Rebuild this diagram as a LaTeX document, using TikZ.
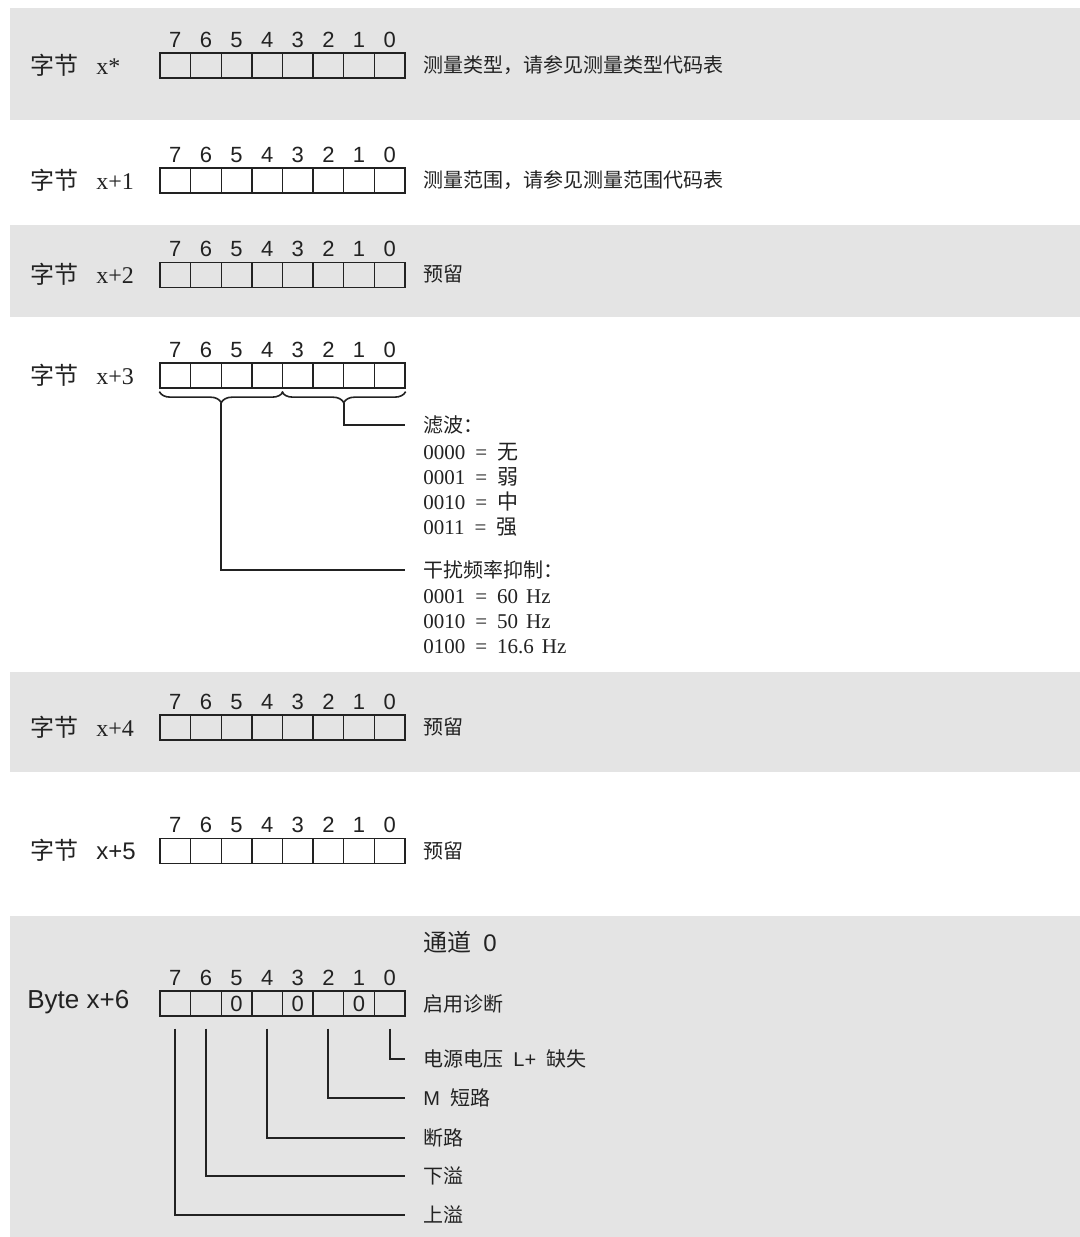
\documentclass[tikz,border=0pt]{standalone}
\usepackage{fontspec}
\setmainfont{Liberation Serif}
\setsansfont{Liberation Sans}
\newfontfamily\cjk{Noto Sans CJK SC}
\usetikzlibrary{decorations.pathreplacing}
\definecolor{bandgray}{HTML}{E4E4E4}
\definecolor{ink}{HTML}{222222}
\tikzset{
  cell/.style={draw=ink, line width=0.65pt, minimum width=15.3125pt, minimum height=12.5pt, inner sep=0pt},
  bitnum/.style={inner sep=0pt, font=\sffamily\fontsize{11}{13}\selectfont, text=ink, text height=7.9pt, text depth=0pt},
  lbl/.style={anchor=west, inner sep=0pt, font=\fontsize{12}{14}\selectfont, text=ink},
  desc/.style={anchor=west, inner sep=0pt, font=\cjk\fontsize{10}{12}\selectfont, text=ink},
  code/.style={anchor=west, inner sep=0pt, font=\fontsize{10.5}{12}\selectfont, text=ink},
  conn/.style={draw=ink, line width=1pt},
  bracestyle/.style={draw=ink, line width=0.8pt, decorate, decoration={brace, mirror, amplitude=5.5pt}},
  band/.style={fill=bandgray}
}
\newcommand\bytecells[2]{%
  \foreach \b in {0,...,7}{%
    \node[cell] (#1-\b) at ({160+(7.5-\b)*30.625},#2) {};
    \node[bitnum] (#1-n\b) at ({160+(7.5-\b)*30.625},#2-26) {\b};
  }}
\begin{document}
\begin{tikzpicture}[x=0.5pt,y=-0.5pt]
\useasboundingbox (0,0) rectangle (1080,1237);
\fill[white] (0,0) rectangle (1080,1237);
% bands
\fill[band] (10,8) rectangle (1080,120);
\fill[band] (10,225) rectangle (1080,317);
\fill[band] (10,672) rectangle (1080,772);
\fill[band] (10,916) rectangle (1080,1237);

% Row x*
\bytecells{ra}{65.5}
\node[lbl] (la) at (30,65) {{\cjk 字节}\hspace{9pt}x*};
\node[desc] (da) at (423,65) {测量类型，请参见测量类型代码表};

% Row x+1
\bytecells{rb}{180.5}
\node[lbl] (lb) at (30,180) {{\cjk 字节}\hspace{9pt}x+1};
\node[desc] (db) at (423,180) {测量范围，请参见测量范围代码表};

% Row x+2
\bytecells{rc}{275}
\node[lbl] (lc) at (30,274) {{\cjk 字节}\hspace{9pt}x+2};
\node[desc] (dc) at (423,274) {预留};

% Row x+3
\bytecells{rd}{375.5}
\node[lbl] (ld) at (30,375) {{\cjk 字节}\hspace{9pt}x+3};
\draw[bracestyle] ([yshift=-1.5pt]rd-7.south west) coordinate (bl1) -- ([yshift=-1.5pt]rd-4.south east) coordinate (bl2);
\draw[bracestyle] ([yshift=-1.5pt]rd-3.south west) coordinate (br1) -- ([yshift=-1.5pt]rd-0.south east) coordinate (br2);
\coordinate (tipL) at (221.25,403);
\coordinate (tipR) at (343.75,403);
\node[desc] (filt) at (423,425) {滤波：};
\node[code] (c1) at (423,452) {0000\hspace{5pt}=\hspace{5pt}{\cjk 无}};
\node[code] (c2) at (423,477) {0001\hspace{5pt}=\hspace{5pt}{\cjk 弱}};
\node[code] (c3) at (423,502) {0010\hspace{5pt}=\hspace{5pt}{\cjk 中}};
\node[code] (c4) at (423,527) {0011\hspace{5pt}=\hspace{5pt}{\cjk 强}};
\node[desc] (supp) at (423,570) {干扰频率抑制：};
\node[code] (c5) at (423,597) {0001\hspace{5pt}=\hspace{5pt}60\hspace{4pt}Hz};
\node[code] (c6) at (423,622) {0010\hspace{5pt}=\hspace{5pt}50\hspace{4pt}Hz};
\node[code] (c7) at (423,647) {0100\hspace{5pt}=\hspace{5pt}16.6\hspace{4pt}Hz};
\draw[conn] (tipR) |- ([xshift=-9pt]filt.west);
\draw[conn] (tipL) |- ([xshift=-9pt]supp.west);

% Row x+4
\bytecells{re}{727.5}
\node[lbl] (le) at (30,727) {{\cjk 字节}\hspace{9pt}x+4};
\node[desc] (de) at (423,727) {预留};

% Row x+5
\bytecells{rf}{851}
\node[lbl] (lf) at (30,850) {{\cjk 字节}\hspace{9pt}\sffamily x+5};
\node[desc] (df) at (423,851) {预留};

% Row x+6
\node[anchor=west, inner sep=0pt, font=\fontsize{12}{14}\selectfont, text=ink] (ch) at (423,942) {{\cjk 通道}\hspace{6pt}\sffamily 0};
\bytecells{rg}{1003.5}
\node[bitnum] (z5) at (rg-5) {0};
\node[bitnum] (z3) at (rg-3) {0};
\node[bitnum] (z1) at (rg-1) {0};
\node[lbl, font=\sffamily\fontsize{13}{15}\selectfont] (lg) at (27,1002) {Byte x+6};
\node[desc] (dg) at (423,1004) {启用诊断};
\node[desc] (g0) at (423,1059) {电源电压\hspace{5pt}{\sffamily L+}\hspace{5pt}缺失};
\node[desc] (g2) at (423,1098) {{\sffamily M}\hspace{5pt}短路};
\node[desc] (g4) at (423,1138) {断路};
\node[desc] (g6) at (423,1176) {下溢};
\node[desc] (g7) at (423,1215) {上溢};
\draw[conn] ([yshift=-6pt]rg-0.south) |- ([xshift=-9pt]g0.west);
\draw[conn] ([yshift=-6pt]rg-2.south) |- ([xshift=-9pt]g2.west);
\draw[conn] ([yshift=-6pt]rg-4.south) |- ([xshift=-9pt]g4.west);
\draw[conn] ([yshift=-6pt]rg-6.south) |- ([xshift=-9pt]g6.west);
\draw[conn] ([yshift=-6pt]rg-7.south) |- ([xshift=-9pt]g7.west);
\end{tikzpicture}
\end{document}
